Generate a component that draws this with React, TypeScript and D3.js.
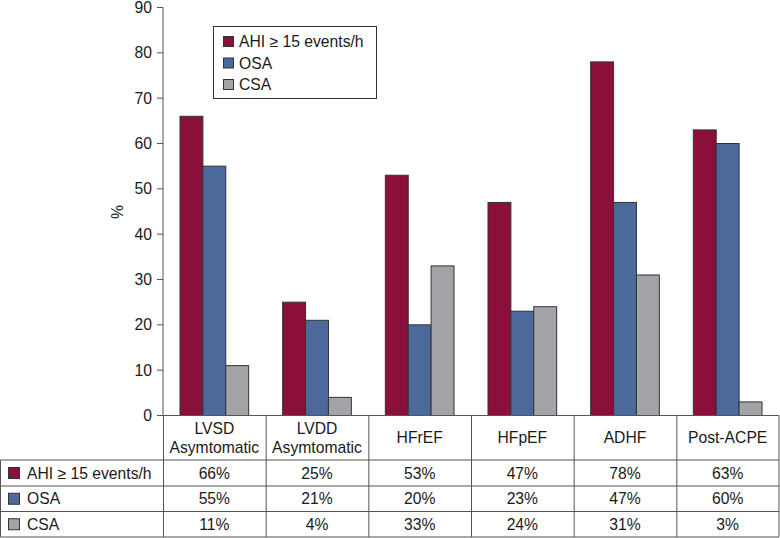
import React from "react";
import * as d3 from "d3";

const categories = ["LVSD|Asymtomatic", "LVDD|Asymtomatic", "HFrEF", "HFpEF", "ADHF", "Post-ACPE"];
const seriesNames = ["AHI ≥ 15 events/h", "OSA", "CSA"];
const ahi = [66, 25, 53, 47, 78, 63];
const osa = [55, 21, 20, 23, 47, 60];
const csa = [11, 4, 33, 24, 31, 3];
const colors = ["#8A0F3A", "#4B6A9B", "#A2A4A8"];
const yTicks = [0, 10, 20, 30, 40, 50, 60, 70, 80, 90];

const W = 780;
const H = 538;
const FONT = "'Liberation Sans', Arial, Helvetica, sans-serif";

export default function App() {
  const series = [ahi, osa, csa];
  const x = d3.scaleBand<string>().domain(categories).range([163, 779]).paddingInner(0).paddingOuter(0);
  const bw = x.bandwidth();
  const xs = d3.scaleBand<number>().domain([0, 1, 2]).range([17, bw - 17]).padding(0);
  const y = d3.scaleLinear().domain([0, 90]).range([415.5, 7.5]);
  const rowTops = [460, 486, 511.5, 537];
  const headerTop = 415.5;
  const strokeC = "#555";
  const fs = 15.7;

  return (
    <svg width={W} height={H} style={{ position: "absolute", left: 0, top: 0, background: "#fff" }} fontFamily={FONT}>
      {/* y axis */}
      <line x1={163} x2={163} y1={y(90)} y2={headerTop} stroke={strokeC} strokeWidth={1} />
      {yTicks.map((t) => (
        <g key={t}>
          <line x1={157} x2={163} y1={y(t)} y2={y(t)} stroke={strokeC} strokeWidth={1} />
          <text x={152} y={y(t)} dy="0.36em" textAnchor="end" fontSize={fs} fill="#1a1a1a">
            {t}
          </text>
        </g>
      ))}
      <text transform={`translate(117,212) rotate(-90)`} textAnchor="middle" fontSize={fs} fill="#1a1a1a" dy="0.36em">
        %
      </text>

      {/* bars */}
      {categories.map((c, ci) =>
        series.map((s, si) => (
          <rect
            key={c + si}
            x={(x(c) as number) + (xs(si) as number)}
            y={y(s[ci])}
            width={xs.bandwidth()}
            height={y(0) - y(s[ci])}
            fill={colors[si]}
            stroke="#333"
            strokeWidth={1}
          />
        ))
      )}

      {/* baseline across */}
      <line x1={157} x2={779} y1={headerTop} y2={headerTop} stroke={strokeC} strokeWidth={1} />

      {/* legend */}
      <rect x={213.5} y={26.5} width={163} height={72} fill="#fff" stroke="#333" strokeWidth={1} />
      {seriesNames.map((n, i) => (
        <g key={n}>
          <rect x={223.5} y={36.5 + i * 21.5} width={10} height={10} fill={colors[i]} stroke="#333" strokeWidth={1} />
          <text x={239} y={41.5 + i * 21.5} dy="0.36em" fontSize={fs} fill="#1a1a1a">
            {n}
          </text>
        </g>
      ))}

      {/* table grid */}
      {rowTops.map((r, i) => (
        <line key={"h" + i} x1={0.5} x2={779} y1={r} y2={r} stroke={strokeC} strokeWidth={1} />
      ))}
      <line x1={0.5} x2={0.5} y1={rowTops[0]} y2={rowTops[3]} stroke={strokeC} strokeWidth={1} />
      {categories.map((c, ci) => (
        <line
          key={"v" + ci}
          x1={(x(c) as number) + 0.5}
          x2={(x(c) as number) + 0.5}
          y1={headerTop}
          y2={rowTops[3]}
          stroke={strokeC}
          strokeWidth={1}
        />
      ))}
      <line x1={779} x2={779} y1={headerTop} y2={rowTops[3]} stroke={strokeC} strokeWidth={1} />

      {/* header labels */}
      {categories.map((c) => {
        const parts = c.split("|");
        const cx = (x(c) as number) + bw / 2;
        const mid = (headerTop + rowTops[0]) / 2;
        return (
          <text key={"lab" + c} x={cx} textAnchor="middle" fontSize={fs} fill="#1a1a1a">
            {parts.map((p, pi) => (
              <tspan key={pi} x={cx} y={mid + (pi - (parts.length - 1) / 2) * 18.5} dy="0.36em">
                {p}
              </tspan>
            ))}
          </text>
        );
      })}

      {/* table rows */}
      {seriesNames.map((n, si) => {
        const cy = (rowTops[si] + rowTops[si + 1]) / 2;
        return (
          <g key={"row" + si}>
            <rect x={8.5} y={cy - 5.5} width={11} height={11} fill={colors[si]} stroke="#333" strokeWidth={1} />
            <text x={27} y={cy} dy="0.36em" fontSize={fs} fill="#1a1a1a">
              {n}
            </text>
            {categories.map((c, ci) => (
              <text
                key={c}
                x={(x(c) as number) + bw / 2}
                y={cy}
                dy="0.36em"
                textAnchor="middle"
                fontSize={fs}
                fill="#1a1a1a"
              >
                {series[si][ci]}%
              </text>
            ))}
          </g>
        );
      })}
    </svg>
  );
}
